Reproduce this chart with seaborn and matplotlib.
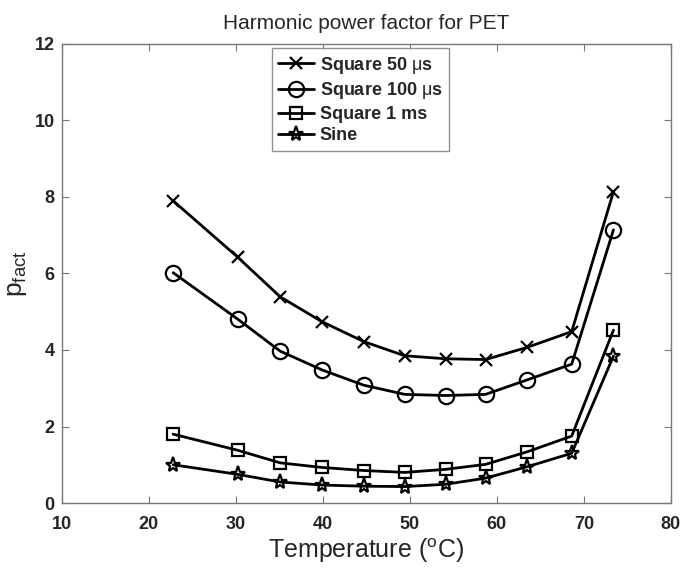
import matplotlib
matplotlib.use("Agg")
import matplotlib.pyplot as plt
import seaborn as sns
import pandas as pd

temperature = [22.8, 30.2, 35.1, 39.9, 44.7, 49.4, 54.1, 58.7, 63.5, 68.6, 73.4]
square_50us = [7.9, 6.43, 5.39, 4.74, 4.22, 3.85, 3.77, 3.75, 4.07, 4.48, 8.14]
square_100us = [6.02, 4.81, 3.97, 3.48, 3.08, 2.84, 2.81, 2.84, 3.22, 3.63, 7.14]
square_1ms = [1.80, 1.38, 1.05, 0.93, 0.85, 0.80, 0.88, 1.01, 1.34, 1.75, 4.52]
sine = [1.0, 0.75, 0.55, 0.47, 0.44, 0.43, 0.49, 0.65, 0.95, 1.30, 3.84]

series_names = ["Square 50 $\\mu$s", "Square 100 $\\mu$s", "Square 1 ms", "Sine"]
series_values = [square_50us, square_100us, square_1ms, sine]
markers = ["x", "o", "s", "*"]
msizes = [9, 11, 9, 11]

sns.set_style("ticks")
plt.rcParams['font.family'] = ['Liberation Sans', 'DejaVu Sans']
plt.rcParams['mathtext.fontset'] = 'custom'
plt.rcParams['mathtext.rm'] = 'Liberation Sans'
plt.rcParams['mathtext.it'] = 'Liberation Sans'
plt.rcParams['mathtext.bf'] = 'Liberation Sans:bold'

fig = plt.figure(figsize=(6.86, 5.70), dpi=100)
ax = fig.add_axes([0.090, 0.1175, 0.888, 0.8055])

for name, vals, m, ms in zip(series_names, series_values, markers, msizes):
    df = pd.DataFrame({"T": temperature, "p": vals})
    sns.lineplot(data=df, x="T", y="p", ax=ax, color="black", linewidth=2,
                 marker=m, markersize=ms, markerfacecolor="none",
                 markeredgecolor="black", markeredgewidth=1.6, label=name)

ax.set_xlim(10, 80)
ax.set_ylim(0, 12)
ax.set_xticks(range(10, 81, 10))
ax.set_yticks(range(0, 13, 2))
for lab in ax.get_xticklabels() + ax.get_yticklabels():
    lab.set_fontweight("bold")
    lab.set_fontsize(13)
ax.tick_params(direction="in", top=True, right=True, length=5, color="#777777")
ax.tick_params(axis="x", pad=9)
ax.tick_params(axis="y", pad=5)
for s in ax.spines.values():
    s.set_color("#777777")
    s.set_linewidth(1.0)

ax.set_title("Harmonic power factor for PET", fontsize=15, pad=11)
ax.set_xlabel("Temperature ($^{\\rm o}$C)", fontsize=18, labelpad=3)
ax.set_ylabel("p$_{\\rm fact}$", fontsize=19, labelpad=4)

leg = ax.legend(loc="upper center", bbox_to_anchor=(0.49, 0.99), borderaxespad=0,
                frameon=True, fancybox=False, edgecolor="#777777", handlelength=2.0,
                handletextpad=0.3, borderpad=0.35, labelspacing=0.25,
                prop={"weight": "bold", "size": 13})
leg.get_frame().set_linewidth(1.0)
for t in leg.get_texts():
    t.set_fontweight("bold")

fig.savefig("out.png", dpi=100)
